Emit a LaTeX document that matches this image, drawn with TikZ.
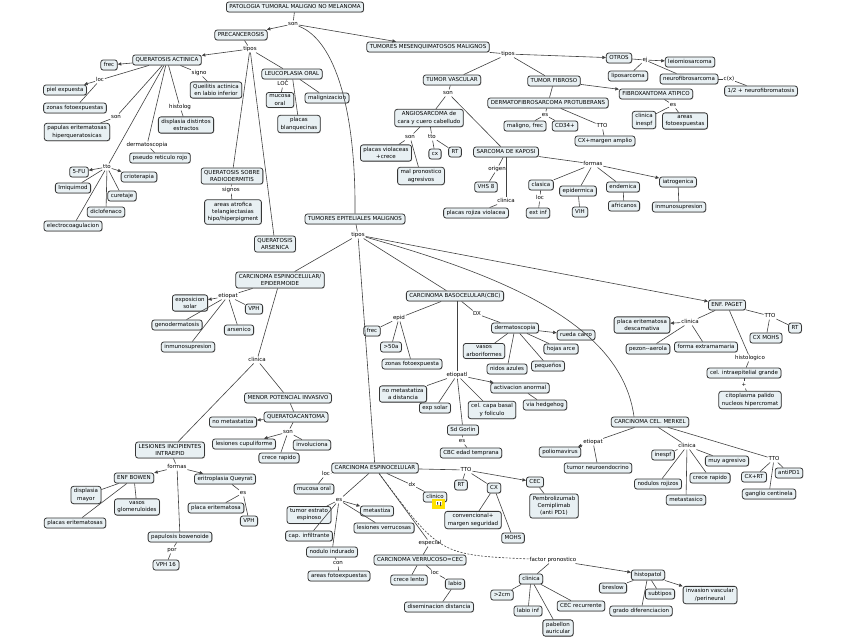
\documentclass[tikz,border=0pt]{standalone}
\usepackage{fontspec}
\setmainfont{DejaVu Sans}
\usetikzlibrary{arrows.meta,shadows}
\definecolor{bx}{RGB}{232,240,243}
\definecolor{bd}{RGB}{55,55,55}
\definecolor{lc}{RGB}{65,65,65}
\newcommand{\fs}{\fontsize{5.5}{7.2}\selectfont}
\tikzset{
 base/.style={draw=bd, fill=bx, rounded corners=2.5pt, line width=0.8pt, inner xsep=3pt, inner ysep=2.4pt, font=\fs, drop shadow={shadow xshift=0.6pt,shadow yshift=-0.6pt,fill=black!45}},
 b/.style={base, text height=4.1pt, text depth=1.2pt},
 bm/.style={base, align=center},
 lb/.style={inner sep=0.7pt, font=\fs, text height=4.1pt, text depth=1.2pt},
 ln/.style={draw=lc, line width=0.6pt},
 ar/.style={ln, -{Triangle[length=3.6pt,width=3.2pt]}},
}
\begin{document}
\begin{tikzpicture}[x=1pt,y=-1pt]
\useasboundingbox (0,0) rectangle (848,638);
% ---------- top
\node[b] (root) at (295,7) {PATOLOGIA TUMORAL MALIGNO NO MELANOMA};
\node[lb] (son0) at (293,24) {son};
\node[b] (prec) at (241,35) {PRECANCEROSIS};
\node[b] (tmm) at (428,47) {TUMORES MESENQUIMATOSOS MALIGNOS};
\node[b] (tem) at (355,219) {TUMORES EPITELIALES MALIGNOS};
% ---------- precancerosis
\node[lb] (tipos1) at (250,49) {tipos};
\node[b] (qa) at (167,60) {QUERATOSIS ACTINICA};
\node[b] (lo) at (292,74) {LEUCOPLASIA ORAL};
\node[bm] (qsr) at (232,176) {QUERATOSIS SOBRE\\RADIODERMITIS};
\node[bm] (qars) at (275,244) {QUERATOSIS\\ARSENICA};
\node[b] (frec1) at (109,65) {frec};
\node[lb] (loc1) at (100,80) {loc};
\node[b] (piel) at (65,90) {piel expuesta};
\node[b] (zonas1) at (75,108) {zonas fotoexpuestas};
\node[lb] (son1) at (116,117) {son};
\node[bm] (papulas) at (77,132) {papulas eritematosas\\hiperqueratosicas};
\node[lb] (signo) at (199,73) {signo};
\node[bm] (queil) at (216,90) {Queilitis actinica\\en labio inferior};
\node[lb] (histolog) at (180,107) {histolog};
\node[bm] (displ) at (186,125) {displasia distintos\\estractos};
\node[lb] (dermat1) at (147,145) {dermatoscopia};
\node[b] (pseudo) at (160,158) {pseudo reticulo rojo};
\node[lb] (tto1) at (107,167) {tto};
\node[b] (fu) at (79,172) {5-FU};
\node[b] (crio) at (139,177) {crioterapia};
\node[b] (imiq) at (73,188) {Imiquimod};
\node[b] (curet) at (122,196) {curetaje};
\node[b] (diclo) at (106,212) {diclofenaco};
\node[b] (electro) at (73,226) {electrocoagulacion};
\node[lb] (loc2) at (283,84) {LOC};
\node[bm] (mucosa1) at (280,100) {mucosa\\oral};
\node[b] (malig) at (327,98) {malignizacion};
\node[bm] (placasb) at (299,124) {placas\\blanquecinas};
\node[lb] (signos) at (231,190) {signos};
\node[bm] (areas1) at (233,212) {areas atrofica\\telangiectasias\\hipo/hiperpigment};
% ---------- mesenquimatosos
\node[lb] (tipos2) at (508,54) {tipos};
\node[b] (otros) at (619,58) {OTROS};
\node[b] (tv) at (452,80) {TUMOR VASCULAR};
\node[b] (tf) at (554,81) {TUMOR FIBROSO};
\node[lb] (ej) at (645,60) {ej};
\node[b] (leio) at (690,62) {leiomiosarcoma};
\node[b] (lipo) at (628,76) {liposarcoma};
\node[b] (neuro) at (689,79) {neurofibrosarcoma};
\node[lb] (cxl) at (729,79) {c(x)};
\node[b] (neurof) at (761,91) {1/2 + neurofibromatosis};
\node[b] (fxa) at (656,94) {FIBROXANTOMA ATIPICO};
\node[lb] (es1) at (673,105) {es};
\node[bm] (clinesp) at (644,120) {clinica\\inespf};
\node[bm] (areas2) at (685,121) {areas\\fotoexpuestas};
\node[b] (dfsp) at (548,103) {DERMATOFIBROSARCOMA PROTUBERANS};
\node[lb] (es2) at (545,115) {es};
\node[b] (malfrec) at (525,126) {maligno, frec};
\node[b] (cd34) at (565,126) {CD34+};
\node[lb] (tto2) at (602,126) {TTO};
\node[b] (cxm) at (605,141) {CX+margen amplio};
\node[lb] (son2) at (448,93) {son};
\node[bm] (angio) at (429,118) {ANGIOSARCOMA de\\cara y cuero cabelludo};
\node[b] (sk) at (506,152) {SARCOMA DE KAPOSI};
\node[lb] (son3) at (410,137) {son};
\node[bm] (placasv) at (386,153) {placas violaceas\\+crece};
\node[bm] (malpron) at (421,176) {mal pronostico\\agresivos};
\node[lb] (tto3) at (432,137) {tto};
\node[b] (cx1) at (435,154) {cx};
\node[b] (rt1) at (455,152) {RT};
\node[lb] (origen) at (497,169) {origen};
\node[b] (vhs) at (486,187) {VHS 8};
\node[lb] (clin1) at (506,201) {clinica};
\node[b] (placasr) at (476,213) {placas rojiza violacea};
\node[lb] (formas1) at (593,164) {formas};
\node[b] (clasica) at (541,185) {clasica};
\node[lb] (loc3) at (540,198) {loc};
\node[b] (extinf) at (538,213) {ext inf};
\node[b] (epid) at (578,191) {epidermica};
\node[b] (vih) at (580,212) {VIH};
\node[b] (endem) at (623,187) {endemica};
\node[b] (afric) at (624,206) {africanos};
\node[b] (iatro) at (678,182) {iatrogenica};
\node[b] (inmun1) at (679,207) {inmunosupresion};
% ---------- epiteliales
\node[lb] (tipos3) at (358,235) {tipos};
\node[bm] (cee) at (280,280) {CARCINOMA ESPINOCELULAR/\\EPIDERMOIDE};
\node[b] (cbc) at (455,296) {CARCINOMA BASOCELULAR(CBC)};
\node[b] (paget) at (727,305) {ENF. PAGET};
\node[b] (merkel) at (650,422) {CARCINOMA CEL. MERKEL};
\node[b] (ce) at (375,468) {CARCINOMA ESPINOCELULAR};
% CEE
\node[lb] (etiopat1) at (228,296) {etiopat};
\node[bm] (expsol) at (190,303) {exposicion\\solar};
\node[b] (genod) at (177,325) {genodermatosis};
\node[b] (inmun2) at (188,347) {inmunosupresion};
\node[b] (vph1) at (254,309) {VPH};
\node[b] (arsen) at (239,330) {arsenico};
\node[lb] (clin2) at (257,360) {clinica};
\node[b] (mpi) at (288,398) {MENOR POTENCIAL INVASIVO};
\node[b] (qk) at (296,417) {QUERATOACANTOMA};
\node[b] (nometa1) at (233,422) {no metastatiza};
\node[lb] (son4) at (288,432) {son};
\node[b] (lcupu) at (244,444) {lesiones cupuliforme};
\node[b] (invol) at (312,445) {involuciona};
\node[b] (crece1) at (279,458) {crece rapido};
\node[bm] (lii) at (170,450) {LESIONES INCIPIENTES\\INTRAEPID};
\node[lb] (formas2) at (177,467) {formas};
\node[b] (bowen) at (134,478) {ENF BOWEN};
\node[bm] (displm) at (86,495) {displasia\\mayor};
\node[bm] (vasos) at (137,507) {vasos\\glomeruloides};
\node[b] (placase) at (75,523) {placas eritematosas};
\node[b] (eritro) at (225,479) {eritroplasia Queyrat};
\node[lb] (es3) at (243,493) {es};
\node[b] (placae) at (216,508) {placa eritematosa};
\node[b] (vph2) at (249,521) {VPH};
\node[b] (papbow) at (180,537) {papulosis bowenoide};
\node[lb] (por) at (172,550) {por};
\node[b] (vph16) at (166,565) {VPH 16};
% CBC
\node[lb] (epidl) at (399,318) {epid};
\node[b] (frec2) at (372,331) {frec};
\node[b] (g50) at (391,347) {>50a};
\node[b] (zonas2) at (412,364) {zonas fotoexpuesta};
\node[lb] (dx1) at (477,314) {DX};
\node[b] (dermat) at (515,328) {dermatoscopia};
\node[b] (rueda) at (576,335) {rueda carro};
\node[b] (hojas) at (561,349) {hojas arce};
\node[b] (peq) at (548,366) {pequeños};
\node[b] (nidos) at (507,369) {nidos azules};
\node[bm] (vasosa) at (484,351) {vasos\\arboriformes};
\node[lb] (etiopatl) at (457,375) {etiopatl};
\node[b] (activ) at (520,388) {activacion anormal};
\node[b] (hedge) at (545,405) {via hedgehog};
\node[bm] (nometa2) at (403,394) {no metastatiza\\a distancia};
\node[b] (expsol2) at (435,408) {exp solar};
\node[bm] (celcapa) at (492,410) {cel. capa basal\\y foliculo};
\node[b] (gorlin) at (463,430) {Sd Gorlin};
\node[lb] (es4) at (462,441) {es};
\node[b] (cbcedad) at (471,453) {CBC edad temprana};
% PAGET
\node[lb] (clin3) at (690,322) {clinica};
\node[bm] (placaed) at (642,325) {placa eritematosa\\descamativa};
\node[b] (pezon) at (648,349) {pezon-{}-aerola};
\node[b] (forma) at (706,347) {forma extramamaria};
\node[lb] (tto4) at (770,316) {TTO};
\node[b] (cxmohs) at (766,338) {CX MOHS};
\node[b] (rt2) at (795,328) {RT};
\node[lb] (histo) at (750,358) {histologico};
\node[b] (celintra) at (744,373) {cel. intraepitelial grande};
\node[lb] (plus) at (744,385) {+};
\node[bm] (citop) at (750,400) {citoplasma palido\\nucleos hipercromat};
% MERKEL
\node[lb] (etiopat2) at (593,442) {etiopat};
\node[b] (polio) at (560,452) {poliomavirus};
\node[b] (tne) at (598,468) {tumor neuroendocrino};
\node[lb] (clin4) at (687,446) {clinica};
\node[b] (inespf) at (663,455) {inespf};
\node[b] (muy) at (727,461) {muy agresivo};
\node[b] (crece2) at (710,478) {crece rapido};
\node[b] (nodulos) at (658,484) {nodulos rojizos};
\node[b] (metast) at (686,500) {metastasico};
\node[lb] (tto5) at (774,459) {TTO};
\node[b] (cxrt) at (754,477) {CX+RT};
\node[b] (antipd) at (789,473) {antiPD1};
\node[b] (ganglio) at (769,494) {ganglio centinela};
% CE lower
\node[lb] (loc4) at (326,474) {loc};
\node[b] (mucosa2) at (314,489) {mucosa oral};
\node[lb] (es5) at (339,500) {es};
\node[b] (metastiza) at (377,511) {metastiza};
\node[bm] (tee) at (309,515) {tumor estrato\\espinoso};
\node[b] (lverr) at (384,528) {lesiones verrucosas};
\node[b] (capinf) at (309,536) {cap. infiltrante};
\node[b] (nodulo) at (332,552) {nodulo indurado};
\node[lb] (con) at (338,563) {con};
\node[b] (areas3) at (339,576) {areas fotoexpuestas};
\node[lb] (dx2) at (412,485) {dx};
\node[b] (clinico) at (435,497) {clinico};
\fill[yellow!85!orange] (432,499) rectangle (445,509);
\fill[white] (436,501) rectangle (442,505);
\fill[black!70] (437,502) rectangle (438,504.5) (440,502) rectangle (441,506);
\node[lb] (tto6) at (466,470) {TTO};
\node[b] (rt3) at (461,485) {RT};
\node[b] (cx2) at (494,488) {CX};
\node[b] (cec) at (535,482) {CEC};
\node[bm] (conv) at (473,520) {convencional+\\margen seguridad};
\node[b] (mohs) at (513,538) {MOHS};
\node[bm] (pembro) at (554,506) {Pembrolizumab\\Cemiplimab\\(anti PD1)};
\node[lb] (esp) at (430,543) {especial};
\node[b] (cvc) at (420,560) {CARCINOMA VERRUCOSO=CEC};
\node[lb] (loc5) at (435,573) {loc};
\node[b] (crecel) at (409,580) {crece lento};
\node[b] (labio) at (455,584) {labio};
\node[b] (disem) at (439,607) {diseminacion distancia};
\node[lb] (fp) at (553,560) {factor pronostico};
\node[b] (clin5) at (531,579) {clinica};
\node[b] (g2cm) at (502,595) {>2cm};
\node[b] (labioinf) at (528,611) {labio inf};
\node[bm] (pabellon) at (558,628) {pabellon\\auricular};
\node[b] (cecrec) at (581,606) {CEC recurrente};
\node[b] (histop) at (648,575) {histopatol};
\node[b] (breslow) at (613,588) {breslow};
\node[b] (subt) at (660,594) {subtipos};
\node[b] (grado) at (641,611) {grado diferenciacion};
\node[bm] (invas) at (710,595) {invasion vascular\\/perineural};
% ================= connectors
\draw[ln] (root) -- (son0);
\draw[ar] (son0) -- (prec);
\draw[ar] (son0) -- (tmm);
\draw[ln] (son0) .. controls (335,40) and (356,110) .. (tem.north);
\draw[ln] (prec) -- (tipos1);
\draw[ar] (tipos1) -- (qa);
\draw[ln] (tipos1) -- (lo);
\draw[ln] (tipos1) -- (qsr);
\draw[ln] (tipos1) -- (qars);
\draw[ar] (qa) -- (frec1);
\draw[ln] (qa) -- (loc1);
\draw[ar] (loc1) -- (piel);
\draw[ln] (loc1) -- (zonas1);
\draw[ln] (qa) -- (son1);
\draw[ln] (son1) -- (papulas);
\draw[ln] (qa) -- (signo);
\draw[ln] (signo) -- (queil);
\draw[ln] (qa) -- (histolog);
\draw[ln] (histolog) -- (displ);
\draw[ln] (qa) -- (dermat1);
\draw[ln] (dermat1) -- (pseudo);
\draw[ln] (qa) -- (tto1);
\draw[ar] (tto1) -- (fu);
\draw[ar] (tto1) -- (crio);
\draw[ln] (tto1) -- (imiq);
\draw[ln] (tto1) -- (curet);
\draw[ln] (tto1) -- (diclo);
\draw[ln] (tto1) -- (electro);
\draw[ln] (lo) -- (loc2);
\draw[ln] (loc2) -- (mucosa1);
\draw[ln] (lo) -- (malig);
\draw[ln] (lo) -- (placasb);
\draw[ln] (qsr) -- (signos);
\draw[ln] (signos) -- (areas1);
% mesenq
\draw[ln] (tmm) -- (tipos2);
\draw[ar] (tipos2) -- (otros);
\draw[ln] (tipos2) -- (tv);
\draw[ln] (tipos2) -- (tf);
\draw[ln] (otros) -- (ej);
\draw[ar] (ej) -- (leio);
\draw[ln] (ej) -- (lipo);
\draw[ln] (ej) -- (neuro);
\draw[ln] (neuro) -- (cxl);
\draw[ln] (cxl) -- (neurof);
\draw[ar] (tf) -- (fxa);
\draw[ln] (fxa) -- (es1);
\draw[ln] (es1) -- (clinesp);
\draw[ln] (es1) -- (areas2);
\draw[ln] (tf) -- (dfsp);
\draw[ln] (dfsp) -- (es2);
\draw[ln] (es2) -- (malfrec);
\draw[ln] (es2) -- (cd34);
\draw[ln] (dfsp) -- (tto2);
\draw[ln] (tto2) -- (cxm);
\draw[ln] (tv) -- (son2);
\draw[ln] (son2) -- (angio);
\draw[ln] (son2) -- (sk);
\draw[ln] (angio) -- (son3);
\draw[ln] (son3) -- (placasv);
\draw[ln] (son3) -- (malpron);
\draw[ln] (angio) -- (tto3);
\draw[ln] (tto3) -- (cx1);
\draw[ln] (tto3) -- (rt1);
\draw[ln] (sk) -- (origen);
\draw[ln] (origen) -- (vhs);
\draw[ln] (sk) -- (clin1);
\draw[ln] (clin1) -- (placasr);
\draw[ln] (sk) -- (formas1);
\draw[ln] (formas1) -- (clasica);
\draw[ln] (formas1) -- (epid);
\draw[ln] (formas1) -- (endem);
\draw[ar] (formas1) -- (iatro);
\draw[ln] (clasica) -- (loc3);
\draw[ln] (loc3) -- (extinf);
\draw[ln] (epid) -- (vih);
\draw[ln] (endem) -- (afric);
\draw[ln] (iatro) -- (inmun1);
% epiteliales
\draw[ln] (tem) -- (tipos3);
\draw[ln] (tipos3) -- (cee);
\draw[ln] (tipos3) -- (cbc);
\draw[ar] (tipos3) -- (paget);
\draw[ln] (tipos3) .. controls (520,280) and (622,330) .. ([xshift=-16pt]merkel.north);
\draw[ln] (tipos3) -- (ce);
\draw[ln] (cee) -- (etiopat1);
\draw[ar] (etiopat1) -- (expsol);
\draw[ln] (etiopat1) -- (genod);
\draw[ln] (etiopat1) -- (inmun2);
\draw[ln] (etiopat1) -- (vph1);
\draw[ln] (etiopat1) -- (arsen);
\draw[ln] (cee) -- (clin2);
\draw[ln] (clin2) -- (mpi);
\draw[ln] (clin2) -- (lii);
\draw[ln] (mpi) -- (qk);
\draw[ar] (qk) -- (nometa1);
\draw[ln] (qk) -- (son4);
\draw[ar] (son4) -- (lcupu);
\draw[ln] (son4) -- (invol);
\draw[ln] (son4) -- (crece1);
\draw[ln] (lii) -- (formas2);
\draw[ar] (formas2) -- (bowen);
\draw[ar] (formas2) -- (eritro);
\draw[ln] (formas2) -- (papbow);
\draw[ln] (bowen) -- (displm);
\draw[ln] (bowen) -- (vasos);
\draw[ln] (bowen) -- (placase);
\draw[ln] (eritro) -- (es3);
\draw[ln] (es3) -- (placae);
\draw[ln] (es3) -- (vph2);
\draw[ln] (papbow) -- (por);
\draw[ln] (por) -- (vph16);
\draw[ln] (cbc) -- (epidl);
\draw[ln] (epidl) -- (frec2);
\draw[ln] (epidl) -- (g50);
\draw[ln] (epidl) -- (zonas2);
\draw[ln] (cbc) -- (dx1);
\draw[ln] (dx1) -- (dermat);
\draw[ar] (dermat) -- (rueda);
\draw[ln] (dermat) -- (hojas);
\draw[ln] (dermat) -- (peq);
\draw[ln] (dermat) -- (nidos);
\draw[ln] (dermat) -- (vasosa);
\draw[ln] (cbc.south -| etiopatl) -- (etiopatl);
\draw[ar] (etiopatl) -- (activ);
\draw[ln] (activ) -- (hedge);
\draw[ln] (etiopatl) -- (nometa2);
\draw[ln] (etiopatl) -- (expsol2);
\draw[ln] (etiopatl) -- (celcapa);
\draw[ln] (etiopatl) -- (gorlin);
\draw[ln] (gorlin) -- (es4);
\draw[ln] (es4) -- (cbcedad);
\draw[ln] (paget) -- (clin3);
\draw[ar] (clin3) -- (placaed);
\draw[ln] (clin3) -- (pezon);
\draw[ln] (clin3) -- (forma);
\draw[ln] (paget) -- (tto4);
\draw[ln] (tto4) -- (cxmohs);
\draw[ln] (tto4) -- (rt2);
\draw[ln] (paget) -- (histo);
\draw[ln] (histo) -- (celintra);
\draw[ln] (celintra) -- (plus);
\draw[ln] (plus) -- (citop);
\draw[ln] (merkel) -- (etiopat2);
\draw[ar] (etiopat2) -- (polio);
\draw[ln] (etiopat2) -- (tne);
\draw[ln] (merkel) -- (clin4);
\draw[ln] (clin4) -- (inespf);
\draw[ln] (clin4) -- (muy);
\draw[ln] (clin4) -- (crece2);
\draw[ln] (clin4) -- (nodulos);
\draw[ln] (clin4) -- (metast);
\draw[ln] (merkel) -- (tto5);
\draw[ln] (tto5) -- (cxrt);
\draw[ln] (tto5) -- (antipd);
\draw[ln] (tto5) -- (ganglio);
\draw[ln] (ce) -- (loc4);
\draw[ln] (loc4) -- (mucosa2);
\draw[ln] (ce) -- (es5);
\draw[ar] (es5) -- (metastiza);
\draw[ln] (es5) -- (tee);
\draw[ln] (es5) -- (lverr);
\draw[ln] (es5) -- (capinf);
\draw[ln] (es5) -- (nodulo);
\draw[ln] (nodulo) -- (con);
\draw[ln] (con) -- (areas3);
\draw[ln] (ce) -- (dx2);
\draw[ln] (dx2) -- (clinico);
\draw[ln] (ce) -- (tto6);
\draw[ln] (tto6) -- (rt3);
\draw[ln] (tto6) -- (cx2);
\draw[ar] (tto6) -- (cec);
\draw[ln] (cx2) -- (conv);
\draw[ln] (cx2) -- (mohs);
\draw[ln] (cec) -- (pembro);
\draw[ln] (ce) -- (esp);
\draw[ln] (esp) -- (cvc);
\draw[ln] (cvc) -- (crecel);
\draw[ln] (cvc) -- (loc5);
\draw[ln] (loc5) -- (labio);
\draw[ln] (labio) -- (disem);
\draw[ln, dash pattern=on 2pt off 1.5pt] (ce) .. controls (440,555) .. (fp);
\draw[ln] (fp) -- (clin5);
\draw[ar] (fp) -- (histop);
\draw[ln] (clin5) -- (g2cm);
\draw[ln] (clin5) -- (labioinf);
\draw[ln] (clin5) -- (pabellon);
\draw[ln] (clin5) -- (cecrec);
\draw[ln] (histop) -- (breslow);
\draw[ln] (histop) -- (subt);
\draw[ln] (histop) -- (grado);
\draw[ar] (histop) -- (invas);
\end{tikzpicture}
\end{document}
